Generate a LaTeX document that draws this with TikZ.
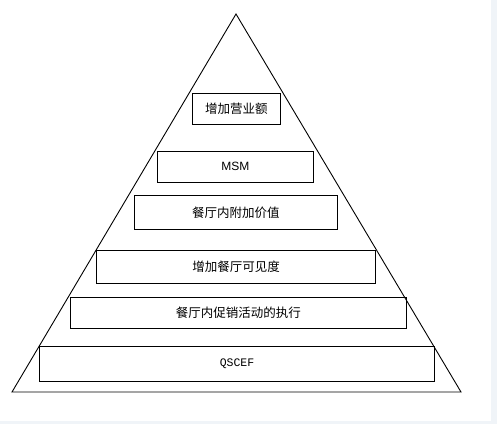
\documentclass[tikz,border=0pt]{standalone}
\usepackage{fontspec}
\newfontfamily\cjk{Noto Sans CJK SC}
\newfontfamily\msmfont{Liberation Sans}
\newfontfamily\monofont{Liberation Mono}
\tikzset{layer/.style={draw,line width=0.9pt,inner sep=0pt,font=\cjk\fontsize{12.5}{14}\selectfont}}
\begin{document}
\begin{tikzpicture}[x=1pt,y=-1pt]
\fill[color={rgb,255:red,240;green,244;blue,248}] (0,0) rectangle (497,424);
\fill[white] (0,0) rectangle (491,421);
\useasboundingbox (0,0) rectangle (497,424);
\coordinate (top) at (236,14);
\coordinate (bl) at (12,392);
\coordinate (br) at (461,392);
\draw[line width=0.9pt] (bl)--(top)--(br)--cycle;
\node[layer,minimum width=88pt,minimum height=30.6pt] (sales) at (236.3,109) {增加营业额};
\node[layer,minimum width=156pt,minimum height=31pt,font=\msmfont\fontsize{12}{14}\selectfont] (msm) at (235.3,166.8) {MSM};
\node[layer,minimum width=203pt,minimum height=33.6pt] (value) at (235.8,212.5) {餐厅内附加价值};
\node[layer,minimum width=279.4pt,minimum height=33pt] (visible) at (236,266.8) {增加餐厅可见度};
\node[layer,minimum width=336pt,minimum height=31pt] (promo) at (238.3,312.8) {餐厅内促销活动的执行};
\node[layer,minimum width=395.4pt,minimum height=34.7pt,font=\monofont\fontsize{11.5}{14}\selectfont] (qscef) at (237,363.7) {QSCEF};
\end{tikzpicture}
\end{document}
